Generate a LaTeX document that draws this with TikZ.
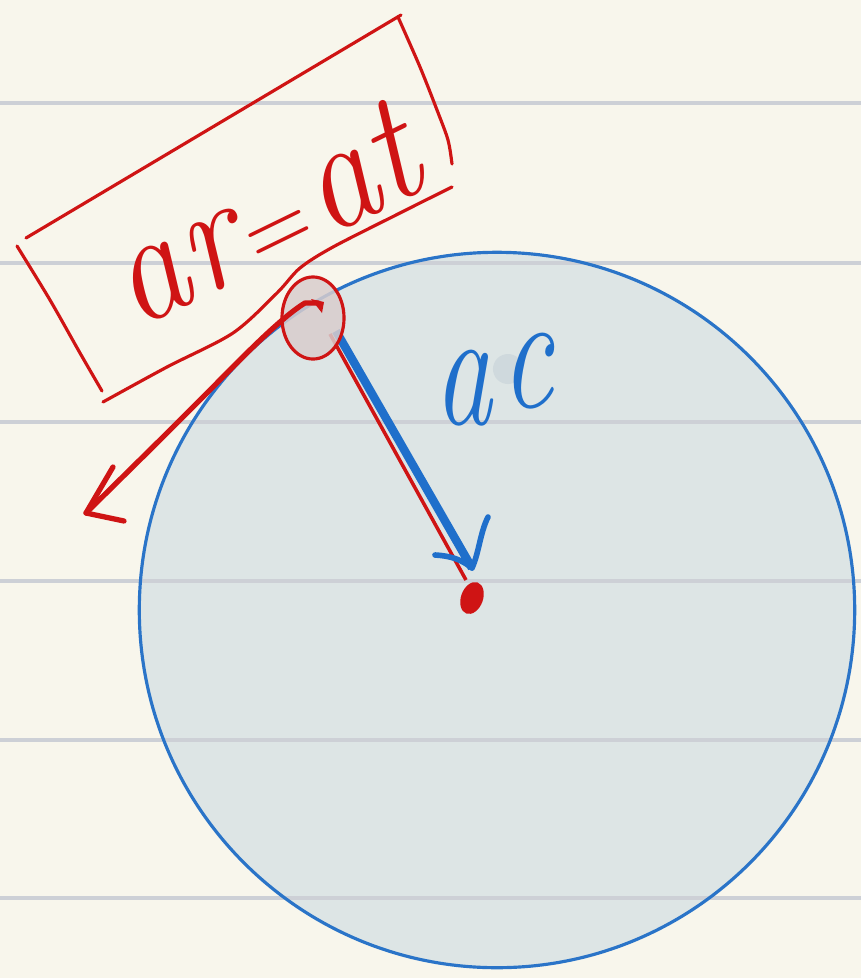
\documentclass[tikz,border=0pt]{standalone}
\usetikzlibrary{calc}
\definecolor{paper}{HTML}{F8F6EC}
\definecolor{ruleg}{HTML}{CDD0D6}
\definecolor{discfill}{HTML}{DDE5E5}
\definecolor{discline}{HTML}{2A74C8}
\definecolor{penred}{HTML}{CF1414}
\definecolor{penblue}{HTML}{1F6FCB}
\definecolor{pinkfill}{HTML}{D9CDCD}
\definecolor{blobc}{HTML}{CFD9DD}
\begin{document}
\begin{tikzpicture}[x=0.01cm,y=-0.01cm,
  ruleline/.style={ruleg,line width=1pt},
  discedge/.style={discline,line width=0.9pt},
  redpen/.style={penred,line width=0.9pt,line cap=round,line join=round},
  redthick/.style={penred,line width=1.5pt,line cap=round,line join=round},
  bluepen/.style={penblue,line width=1.6pt,line cap=round,line join=round},
  handtext/.style={inner sep=0pt,font=\fontsize{40}{46}\selectfont\itshape}]
\useasboundingbox (0,0) rectangle (861,978);
\fill[paper] (0,0) rectangle (861,978);
% disc
\coordinate (C) at (497,610);
\fill[discfill] (C) circle[radius=3.575cm];
\foreach \yy in {103,263,422,581,740,898} \draw[ruleline] (0,\yy) -- (861,\yy);
\draw[discedge] (C) circle[radius=3.575cm];
% faint blob behind c
\fill[blobc] (508,369) circle[radius=0.15cm];
% points
\coordinate (P) at (313,318);
\coordinate (O) at (472,598);
\coordinate (rs) at (330,334);
\coordinate (re) at (466,580);
\coordinate (bs) at (336,331);
\coordinate (be) at (472,568);
% radial lines
\draw[penred,line width=1pt] (rs) -- (re);
\draw[penblue,line width=2.4pt] (bs) -- (be);
\draw[bluepen] (435,555) .. controls (452,556) and (462,560) .. (be);
\draw[bluepen] (488,517) .. controls (480,533) and (479,553) .. (be);
% centre dot
\fill[penred,rotate around={-20:(O)}] (O) ellipse[x radius=0.11cm,y radius=0.165cm];
% small circle at P
\filldraw[redpen,fill=pinkfill,fill opacity=0.85] (P) ellipse[x radius=0.31cm,y radius=0.41cm];
% tangent arrow
\coordinate (T) at (86,513);
\draw[redthick] (T) -- (160,440) -- (210,390) .. controls (240,360) and (280,318) .. (305,303) -- (318,303);
\fill[penred] (311,299) -- (324,302) -- (322,313) -- cycle;
\draw[redthick] (113,467) -- (T) -- (124,521);
% hand-drawn box
\draw[redpen] plot[smooth] coordinates {(17,246) (50,300) (80,353) (102,391)};
\draw[redpen] (26,238) -- (401,15);
\draw[redpen] plot[smooth] coordinates {(398,17) (420,67) (437,110) (448,140) (452,164)};
\draw[redpen] plot[smooth] coordinates {(452,187) (400,213) (333,247) (300,268) (277,293) (233,333) (167,367) (103,402)};
% labels
\node[handtext,text=penred,anchor=base west,rotate=26,yscale=1.12] (lab) at (136,330)
  {a\kern0.02em r\kern0.05em{\fontsize{26}{30}\selectfont\upshape =}\kern0.05em at};
\node[handtext,text=penblue,xscale=0.82,yscale=1.2] (ac) at (494,380) {a\kern0.08em\raisebox{4pt}{c}};
\end{tikzpicture}
\end{document}
